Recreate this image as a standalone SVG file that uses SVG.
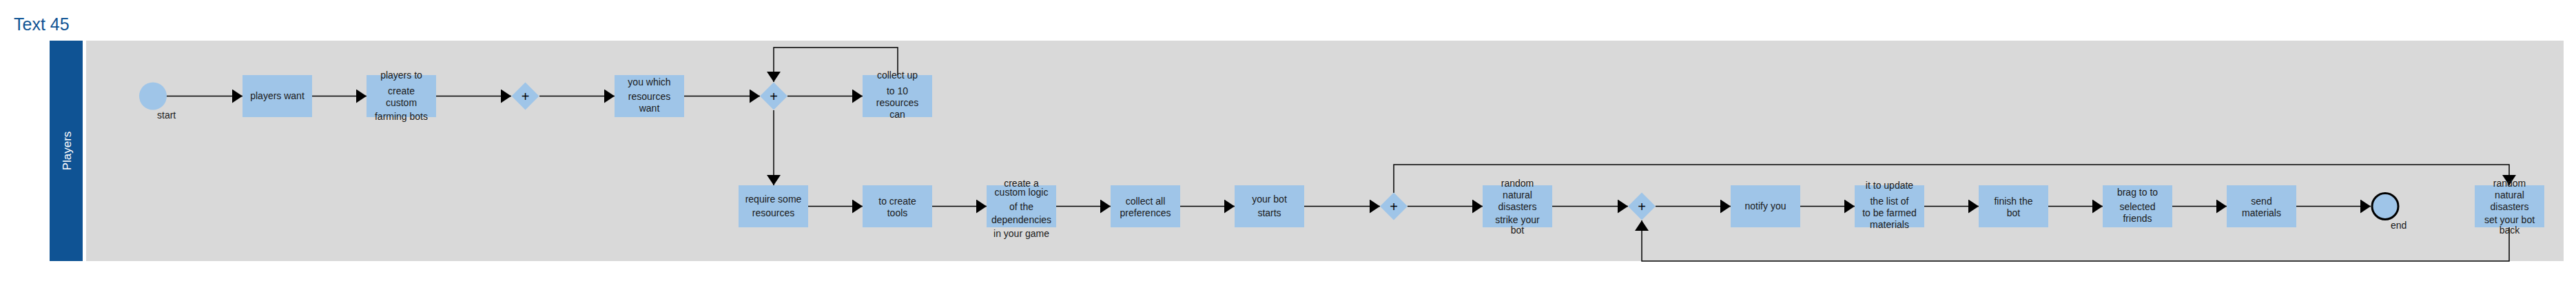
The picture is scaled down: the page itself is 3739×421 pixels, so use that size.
<svg xmlns="http://www.w3.org/2000/svg" width="3739" height="421" viewBox="0 0 3739 421">
<style>
.task{fill:#9fc5e8;}
.gw{fill:#9fc5e8;}
.t{font-family:"Liberation Sans",Arial,sans-serif;font-size:14px;fill:#1a1a1a;text-anchor:middle;}
.lbl{font-family:"Liberation Sans",Arial,sans-serif;font-size:14px;fill:#1a1a1a;}
.plus{font-family:"Liberation Sans",Arial,sans-serif;font-size:20px;fill:#000;text-anchor:middle;}
.c{fill:none;stroke:#000;stroke-width:1.5;marker-end:url(#arr);}
</style>
<defs>
<marker id="arr" viewBox="0 0 15 20" refX="15" refY="10" markerWidth="15" markerHeight="20" markerUnits="userSpaceOnUse" orient="auto">
<path d="M0,0 L15,10 L0,20 Z" fill="#000"/>
</marker>
</defs>
<rect width="3739" height="421" fill="#fff"/>
<text x="20" y="44" font-family="Liberation Sans, Arial, sans-serif" font-size="25" fill="#0f5394">Text 45</text>
<g id="lane">
<rect x="72" y="59" width="48" height="320" fill="#0f5394"/>
<rect x="125" y="59" width="3596" height="320" fill="#d9d9d9"/>
<text transform="translate(103,219) rotate(-90)" font-family="Liberation Sans, Arial, sans-serif" font-size="17" fill="#fff" text-anchor="middle">Players</text>
</g>
<g id="connectors">
<path class="c" d="M242,139.5 H352"/>
<path class="c" d="M453,139.5 H532"/>
<path class="c" d="M633,139.5 H742"/>
<path class="c" d="M783,139.5 H892"/>
<path class="c" d="M993,139.5 H1103"/>
<path class="c" d="M1143,139.5 H1252"/>
<path class="c" d="M1303,109 V69 H1123 V119"/>
<path class="c" d="M1123,160 V269"/>
<path class="c" d="M1173,299.5 H1252"/>
<path class="c" d="M1353,299.5 H1432"/>
<path class="c" d="M1533,299.5 H1612"/>
<path class="c" d="M1713,299.5 H1792"/>
<path class="c" d="M1893,299.5 H2003"/>
<path class="c" d="M2043,299.5 H2152"/>
<path class="c" d="M2253,299.5 H2363"/>
<path class="c" d="M2023,280 V239 H3642 V269"/>
<path class="c" d="M3642,330 V379 H2383 V320"/>
<path class="c" d="M2403,299.5 H2512"/>
<path class="c" d="M2613,299.5 H2692"/>
<path class="c" d="M2793,299.5 H2872"/>
<path class="c" d="M2973,299.5 H3052"/>
<path class="c" d="M3153,299.5 H3232"/>
<path class="c" d="M3333,299.5 H3441"/>
</g>
<g id="start">
<circle cx="222" cy="139.5" r="20" fill="#9fc5e8"/>
<text class="lbl" x="228" y="172">start</text>
</g>
<g id="n1">
<rect class="task" x="352" y="109" width="101" height="61"/>
<text class="t" x="402.5" y="144">players want</text>
</g>
<g id="n2">
<rect class="task" x="532" y="109" width="101" height="61"/>
<text class="t" x="582.5" y="114">players to</text>
<text class="t" x="582.5" y="137">create</text>
<text class="t" x="582.5" y="154">custom</text>
<text class="t" x="582.5" y="174">farming bots</text>
</g>
<g id="g1">
<path class="gw" d="M762.5,119.5 L782.5,139.5 L762.5,159.5 L742.5,139.5 Z"/>
<text class="plus" x="762.5" y="147">+</text>
</g>
<g id="n3">
<rect class="task" x="892" y="109" width="101" height="61"/>
<text class="t" x="942.5" y="124">you which</text>
<text class="t" x="942.5" y="145">resources</text>
<text class="t" x="942.5" y="162">want</text>
</g>
<g id="g2">
<path class="gw" d="M1123,119.5 L1143,139.5 L1123,159.5 L1103,139.5 Z"/>
<text class="plus" x="1123" y="147">+</text>
</g>
<g id="n4">
<rect class="task" x="1252" y="109" width="101" height="61"/>
<text class="t" x="1302.5" y="114">collect up</text>
<text class="t" x="1302.5" y="137">to 10</text>
<text class="t" x="1302.5" y="154">resources</text>
<text class="t" x="1302.5" y="171">can</text>
</g>
<g id="n5">
<rect class="task" x="1072" y="269" width="101" height="61"/>
<text class="t" x="1122.5" y="294">require some</text>
<text class="t" x="1122.5" y="314">resources</text>
</g>
<g id="n6">
<rect class="task" x="1252" y="269" width="101" height="61"/>
<text class="t" x="1302.5" y="297">to create</text>
<text class="t" x="1302.5" y="314">tools</text>
</g>
<g id="n7">
<rect class="task" x="1432" y="269" width="101" height="61"/>
<text class="t" x="1482.5" y="271">create a</text>
<text class="t" x="1482.5" y="284">custom logic</text>
<text class="t" x="1482.5" y="305">of the</text>
<text class="t" x="1482.5" y="324">dependencies</text>
<text class="t" x="1482.5" y="344">in your game</text>
</g>
<g id="n8">
<rect class="task" x="1612" y="269" width="101" height="61"/>
<text class="t" x="1662.5" y="297">collect all</text>
<text class="t" x="1662.5" y="314">preferences</text>
</g>
<g id="n9">
<rect class="task" x="1792" y="269" width="101" height="61"/>
<text class="t" x="1842.5" y="294">your bot</text>
<text class="t" x="1842.5" y="314">starts</text>
</g>
<g id="g3">
<path class="gw" d="M2023,279.5 L2043,299.5 L2023,319.5 L2003,299.5 Z"/>
<text class="plus" x="2023" y="307">+</text>
</g>
<g id="n10">
<rect class="task" x="2152" y="269" width="101" height="61"/>
<text class="t" x="2202.5" y="271">random</text>
<text class="t" x="2202.5" y="288">natural</text>
<text class="t" x="2202.5" y="305">disasters</text>
<text class="t" x="2202.5" y="324">strike your</text>
<text class="t" x="2202.5" y="339">bot</text>
</g>
<g id="g4">
<path class="gw" d="M2383,279.5 L2403,299.5 L2383,319.5 L2363,299.5 Z"/>
<text class="plus" x="2383" y="307">+</text>
</g>
<g id="n11">
<rect class="task" x="2512" y="269" width="101" height="61"/>
<text class="t" x="2562.5" y="304">notify you</text>
</g>
<g id="n12">
<rect class="task" x="2692" y="269" width="101" height="61"/>
<text class="t" x="2742.5" y="274">it to update</text>
<text class="t" x="2742.5" y="297">the list of</text>
<text class="t" x="2742.5" y="314">to be farmed</text>
<text class="t" x="2742.5" y="331">materials</text>
</g>
<g id="n13">
<rect class="task" x="2872" y="269" width="101" height="61"/>
<text class="t" x="2922.5" y="297">finish the</text>
<text class="t" x="2922.5" y="314">bot</text>
</g>
<g id="n14">
<rect class="task" x="3052" y="269" width="101" height="61"/>
<text class="t" x="3102.5" y="284">brag to to</text>
<text class="t" x="3102.5" y="305">selected</text>
<text class="t" x="3102.5" y="322">friends</text>
</g>
<g id="n15">
<rect class="task" x="3232" y="269" width="101" height="61"/>
<text class="t" x="3282.5" y="297">send</text>
<text class="t" x="3282.5" y="314">materials</text>
</g>
<g id="end">
<circle cx="3462" cy="299.5" r="19" fill="#9fc5e8" stroke="#000" stroke-width="3"/>
<text class="lbl" x="3470" y="332">end</text>
</g>
<g id="n16">
<rect class="task" x="3592" y="269" width="101" height="61"/>
<text class="t" x="3642.5" y="271">random</text>
<text class="t" x="3642.5" y="288">natural</text>
<text class="t" x="3642.5" y="305">disasters</text>
<text class="t" x="3642.5" y="324">set your bot</text>
<text class="t" x="3642.5" y="339">back</text>
</g>
</svg>
